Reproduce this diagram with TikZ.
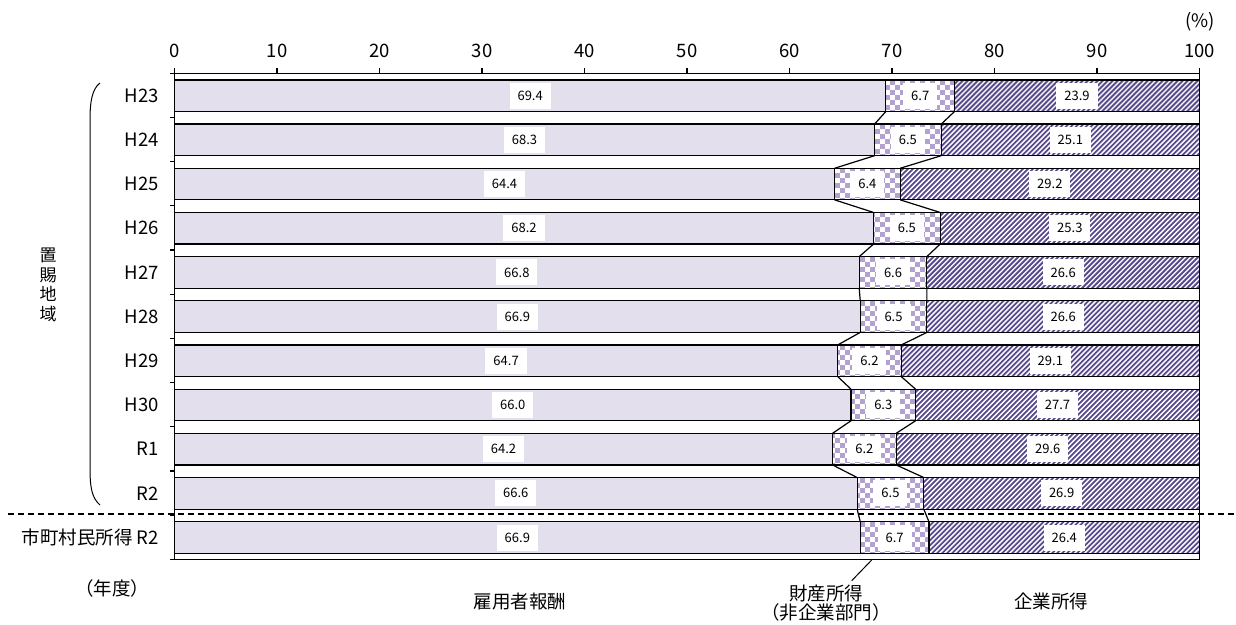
\documentclass[tikz,border=0pt]{standalone}
\usepackage{fontspec}
\setmainfont{Noto Sans CJK JP}
\definecolor{segonec}{HTML}{E4DFEC}
\definecolor{checkc}{HTML}{B3A2CF}
\definecolor{stripec}{HTML}{5A4A8E}
\begin{document}
\begin{tikzpicture}[x=1pt,y=-1pt,
  segone/.style={fill=segonec},
  checksq/.style={fill=checkc},
  stripeline/.style={draw=stripec,line width=1.8pt},
  barline/.style={draw=black,line width=1.2pt},
  conn/.style={draw=black,line width=1.2pt},
  axisline/.style={draw=black,line width=1.3pt},
  vlab/.style={fill=white,inner xsep=8pt,inner ysep=0pt,minimum height=26pt,font=\fontsize{13}{14}\selectfont},
  catlab/.style={anchor=east,inner sep=0pt,font=\fontsize{18.5}{20}\selectfont},
  ticklab/.style={inner sep=0pt,font=\fontsize{18.5}{20}\selectfont},
  jlab/.style={inner sep=0pt,align=center,font=\fontsize{18.5}{18.5}\selectfont}]
\useasboundingbox (0,0) rectangle (1236,624);
\foreach \i/\a/\b/\c/\lab in {0/69.4/6.7/23.9/H23, 1/68.3/6.5/25.1/H24, 2/64.4/6.4/29.2/H25, 3/68.2/6.5/25.3/H26, 4/66.8/6.6/26.6/H27, 5/66.9/6.5/26.6/H28, 6/64.7/6.2/29.1/H29, 7/66.0/6.3/27.7/H30, 8/64.2/6.2/29.6/R1, 9/66.6/6.5/26.9/R2, 10/66.9/6.7/26.4/{市町村民所得 R2}} {
  \pgfmathsetmacro\ya{73.3+44.18*\i+6.6}
  \pgfmathsetmacro\yb{\ya+31.6}
  \pgfmathsetmacro\ym{\ya+15.8}
  \pgfmathsetmacro\xa{174.5+10.25*\a}
  \pgfmathsetmacro\xb{174.5+10.25*(\a+\b)}
  \fill[segone] (174.5,\ya) rectangle (\xa,\yb);
  % checkerboard segment
  \begin{scope}
    \clip (\xa,\ya) rectangle (\xb,\yb);
    \pgfmathtruncatemacro\cs{floor(\xa/5)}
    \pgfmathtruncatemacro\ce{ceil(\xb/5)}
    \foreach \col in {\cs,...,\ce} {
      \foreach \row in {0,...,6} {
        \pgfmathtruncatemacro\pp{mod(\col+\row,2)}
        \ifnum\pp=0 \fill[checksq] ({\col*5},{\ya+\row*5}) rectangle ++(5,5); \fi
      }
    }
  \end{scope}
  % striped segment
  \begin{scope}
    \clip (\xb,\ya) rectangle (1199.5,\yb);
    \pgfmathtruncatemacro\ss{floor((\xb-40)/5)}
    \foreach \s in {\ss,...,241} {
      \draw[stripeline] ({\s*5},{\yb+2}) -- ++(36,-36);
    }
  \end{scope}
  \draw[barline] (174.5,\ya) rectangle (1199.5,\yb) (\xa,\ya) -- (\xa,\yb) (\xb,\ya) -- (\xb,\yb);
  \coordinate (at\i) at (\xa,\ya);
  \coordinate (ab\i) at (\xa,\yb);
  \coordinate (bt\i) at (\xb,\ya);
  \coordinate (bb\i) at (\xb,\yb);
  \node[vlab] (va\i) at ({(174.5+\xa)/2},\ym) {\a};
  \node[vlab] (vb\i) at ({(\xa+\xb)/2},\ym) {\b};
  \node[vlab] (vc\i) at ({(\xb+1199.5)/2},\ym) {\c};
  \node[catlab] (cat\i) at (159,\ym) {\lab};
}
\foreach \i in {0,...,9} {
  \pgfmathtruncatemacro\j{\i+1}
  \draw[conn] (ab\i) -- (at\j);
  \draw[conn] (bb\i) -- (bt\j);
}
% frame and ticks
\draw[axisline] (174.5,73.3) rectangle (1199.5,559.3);
\foreach \v in {0,10,...,100} {
  \draw[axisline] ({174.5+10.25*\v},73.3) -- ++(0,-5);
  \node[ticklab] (t\v) at ({174.5+10.25*\v},51) {\v};
}
\foreach \k in {0,...,11} {
  \draw[axisline] (174.5,{73.3+44.18*\k}) -- ++(-5,0);
}
\node[ticklab] (pct) at (1200,22) {(\%)};
% dashed separator
\draw[line width=1.3pt,dash pattern=on 6pt off 4pt] (8,514) -- (1236,514);
% brace
\draw[line width=1pt] (100,83) .. controls (92,89) and (90,102) .. (90,120) -- (90,468) .. controls (90,488) and (92,498) .. (100,505);
\node[jlab,font=\fontsize{17}{19.5}\selectfont] (region) at (48,285) {置\\賜\\地\\域};
\node[jlab] (nendo) at (112,588) {（年度）};
\node[jlab] (koyo) at (520,602) {雇用者報酬};
\node[jlab] (zaisan) at (826,603) {財産所得\\（非企業部門）};
\node[jlab] (kigyo) at (1051,601) {企業所得};
\coordinate (ldtop) at (871.7,560);
\coordinate (ldbot) at (851.7,580.7);
\draw[line width=1pt] (ldtop) -- (ldbot);
\end{tikzpicture}
\end{document}
